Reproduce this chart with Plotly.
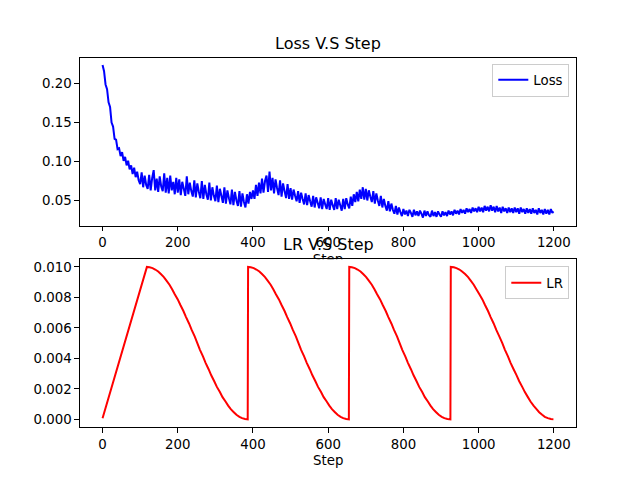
import plotly.graph_objects as go

# ---------------- data ----------------
loss_steps = list(range(0, 1200, 4)) + [1199]
loss_values = [
    # 0 - 96
    0.224, 0.216, 0.199, 0.193, 0.176, 0.170, 0.150, 0.145, 0.129, 0.128,
    0.116, 0.117, 0.107, 0.112, 0.101, 0.106, 0.095, 0.101, 0.090, 0.095,
    0.084, 0.092, 0.080, 0.087, 0.076,
    # 100 - 196
    0.071, 0.086, 0.067, 0.082, 0.070, 0.065, 0.083, 0.063, 0.079, 0.089,
    0.063, 0.078, 0.061, 0.081, 0.068, 0.062, 0.085, 0.060, 0.079, 0.059,
    0.082, 0.063, 0.074, 0.058, 0.079,
    # 200 - 296
    0.060, 0.077, 0.057, 0.074, 0.065, 0.056, 0.081, 0.058, 0.073, 0.062,
    0.055, 0.076, 0.054, 0.072, 0.061, 0.053, 0.075, 0.052, 0.070, 0.058,
    0.051, 0.073, 0.050, 0.067, 0.056,
    # 300 - 396
    0.049, 0.069, 0.048, 0.065, 0.056, 0.047, 0.067, 0.046, 0.063, 0.053,
    0.045, 0.064, 0.044, 0.061, 0.050, 0.043, 0.062, 0.042, 0.059, 0.048,
    0.041, 0.058, 0.046, 0.061, 0.052,
    # 400 - 496
    0.063, 0.052, 0.070, 0.056, 0.073, 0.059, 0.078, 0.060, 0.075, 0.082,
    0.061, 0.087, 0.063, 0.079, 0.059, 0.077, 0.066, 0.057, 0.076, 0.055,
    0.072, 0.062, 0.053, 0.071, 0.052,
    # 500 - 596
    0.066, 0.051, 0.064, 0.056, 0.049, 0.062, 0.047, 0.060, 0.052, 0.045,
    0.059, 0.044, 0.057, 0.049, 0.042, 0.056, 0.041, 0.054, 0.047, 0.040,
    0.054, 0.039, 0.052, 0.045, 0.039,
    # 600 - 696
    0.053, 0.038, 0.051, 0.044, 0.038, 0.053, 0.039, 0.051, 0.044, 0.037,
    0.052, 0.039, 0.053, 0.045, 0.040, 0.055, 0.043, 0.058, 0.048, 0.061,
    0.049, 0.064, 0.052, 0.067, 0.051,
    # 700 - 796
    0.065, 0.050, 0.063, 0.055, 0.048, 0.062, 0.046, 0.059, 0.050, 0.043,
    0.056, 0.041, 0.052, 0.043, 0.037, 0.049, 0.036, 0.046, 0.038, 0.033,
    0.043, 0.032, 0.041, 0.035, 0.030,
    # 800 - 896
    0.039, 0.032, 0.037, 0.030, 0.038, 0.034, 0.029, 0.038, 0.031, 0.036,
    0.030, 0.037, 0.033, 0.028, 0.037, 0.030, 0.036, 0.031, 0.029, 0.037,
    0.030, 0.035, 0.029, 0.036, 0.032,
    # 900 - 996
    0.029, 0.036, 0.031, 0.035, 0.030, 0.037, 0.032, 0.036, 0.031, 0.038,
    0.033, 0.037, 0.032, 0.039, 0.034, 0.038, 0.033, 0.040, 0.035, 0.039,
    0.034, 0.041, 0.036, 0.040, 0.035,
    # 1000 - 1096
    0.042, 0.036, 0.041, 0.035, 0.043, 0.037, 0.042, 0.036, 0.044, 0.037,
    0.042, 0.035, 0.043, 0.036, 0.041, 0.034, 0.042, 0.036, 0.040, 0.034,
    0.041, 0.035, 0.040, 0.034, 0.041,
    # 1100 - 1196, 1199
    0.035, 0.040, 0.033, 0.041, 0.035, 0.039, 0.033, 0.040, 0.034, 0.039,
    0.033, 0.040, 0.034, 0.038, 0.032, 0.040, 0.034, 0.038, 0.032, 0.039,
    0.033, 0.038, 0.032, 0.039, 0.034,
    0.036,
]

lr_steps = [
    0,
    # cycle 1
    118, 125, 133, 140, 148, 155, 163, 170, 178, 185, 192, 200, 207, 215, 222, 230, 237, 245, 252,
    259, 267, 274, 282, 289, 297, 304, 312, 319, 327, 334, 341, 349, 356, 364, 371, 379, 386,
    # cycle 2
    387, 394, 402, 409, 417, 424, 432, 439, 447, 454, 461, 469, 476, 484, 491, 499, 506, 514, 521,
    528, 536, 543, 551, 558, 566, 573, 581, 588, 596, 603, 610, 618, 625, 633, 640, 648, 655,
    # cycle 3
    656, 663, 671, 678, 686, 693, 701, 708, 716, 723, 730, 738, 745, 753, 760, 768, 775, 783, 790,
    797, 805, 812, 820, 827, 835, 842, 850, 857, 865, 872, 879, 887, 894, 902, 909, 917, 925,
    # cycle 4
    926, 934, 941, 949, 956, 964, 972, 979, 987, 994, 1002, 1010, 1017, 1025, 1032, 1040, 1047, 1055, 1063,
    1070, 1078, 1085, 1093, 1101, 1108, 1116, 1123, 1131, 1138, 1146, 1154, 1161, 1169, 1176, 1184, 1192, 1199,
]
lr_values = [
    0.00008,
    # cycle 1
    0.01000, 0.00998, 0.00992, 0.00983, 0.00970, 0.00953, 0.00933, 0.00910, 0.00883, 0.00854,
    0.00821, 0.00787, 0.00750, 0.00711, 0.00671, 0.00629, 0.00587, 0.00544, 0.00500,
    0.00456, 0.00413, 0.00371, 0.00329, 0.00289, 0.00250, 0.00213, 0.00179, 0.00146,
    0.00117, 0.00090, 0.00067, 0.00047, 0.00030, 0.00017, 0.00008, 0.00002, 0.00000,
    # cycle 2
    0.01000, 0.00998, 0.00992, 0.00983, 0.00970, 0.00953, 0.00933, 0.00910, 0.00883, 0.00854,
    0.00821, 0.00787, 0.00750, 0.00711, 0.00671, 0.00629, 0.00587, 0.00544, 0.00500,
    0.00456, 0.00413, 0.00371, 0.00329, 0.00289, 0.00250, 0.00213, 0.00179, 0.00146,
    0.00117, 0.00090, 0.00067, 0.00047, 0.00030, 0.00017, 0.00008, 0.00002, 0.00000,
    # cycle 3
    0.01000, 0.00998, 0.00992, 0.00983, 0.00970, 0.00953, 0.00933, 0.00910, 0.00883, 0.00854,
    0.00821, 0.00787, 0.00750, 0.00711, 0.00671, 0.00629, 0.00587, 0.00544, 0.00500,
    0.00456, 0.00413, 0.00371, 0.00329, 0.00289, 0.00250, 0.00213, 0.00179, 0.00146,
    0.00117, 0.00090, 0.00067, 0.00047, 0.00030, 0.00017, 0.00008, 0.00002, 0.00000,
    # cycle 4
    0.01000, 0.00998, 0.00992, 0.00983, 0.00970, 0.00953, 0.00933, 0.00910, 0.00883, 0.00854,
    0.00821, 0.00787, 0.00750, 0.00711, 0.00671, 0.00629, 0.00587, 0.00544, 0.00500,
    0.00456, 0.00413, 0.00371, 0.00329, 0.00289, 0.00250, 0.00213, 0.00179, 0.00146,
    0.00117, 0.00090, 0.00067, 0.00047, 0.00030, 0.00017, 0.00008, 0.00002, 0.00000,
]

x_ticks = [0, 200, 400, 600, 800, 1000, 1200]
loss_ticks = [0.05, 0.10, 0.15, 0.20]
lr_ticks = [0.000, 0.002, 0.004, 0.006, 0.008, 0.010]

# ---------------- figure ----------------
FONT = "DejaVu Sans"
fig = go.Figure()

fig.add_trace(go.Scatter(x=loss_steps, y=loss_values, mode="lines", name="Loss",
                         line=dict(color="#0000ff", width=2, simplify=False),
                         xaxis="x", yaxis="y", legend="legend"))
fig.add_trace(go.Scatter(x=lr_steps, y=lr_values, mode="lines", name="LR",
                         line=dict(color="#ff0000", width=2, simplify=False),
                         xaxis="x2", yaxis="y2", legend="legend2"))
# x-label of the upper panel, partly hidden under the lower panel (clipped to the gap)
fig.add_trace(go.Scatter(x=[0.5], y=[-0.05], mode="text", text=["Step"],
                         textposition="middle center",
                         textfont=dict(family=FONT, size=13.33, color="black"),
                         cliponaxis=True, showlegend=False, hoverinfo="skip",
                         xaxis="x3", yaxis="y3"))

axis_common = dict(showline=True, mirror=True, linecolor="black", linewidth=1,
                   ticks="outside", ticklen=4.7, tickwidth=1, tickcolor="black",
                   showgrid=False, zeroline=False,
                   tickfont=dict(family=FONT, size=13.33, color="black"))

top_dom = [0.5455, 1.0]
bot_dom = [0.0, 0.4545]

# the page body has an 8px offset, so the figure is 632x472 placed at (8, 8)
fig.update_layout(
    width=632, height=472,
    margin=dict(l=72, r=64, t=49.6, b=52.8, pad=0),
    paper_bgcolor="white", plot_bgcolor="white",
    font=dict(family=FONT, size=13.33, color="black"),
    xaxis=dict(domain=[0, 1], range=[-59.95, 1258.95], anchor="y",
               tickvals=x_ticks, ticktext=[str(v) for v in x_ticks], **axis_common),
    yaxis=dict(domain=top_dom, range=[0.0176, 0.2330], anchor="x",
               tickvals=loss_ticks, ticktext=["%.2f" % v for v in loss_ticks], **axis_common),
    xaxis2=dict(domain=[0, 1], range=[-59.95, 1258.95], anchor="y2",
                tickvals=x_ticks, ticktext=[str(v) for v in x_ticks], **axis_common),
    yaxis2=dict(domain=bot_dom, range=[-0.0005, 0.0105], anchor="x2",
                tickvals=lr_ticks, ticktext=["%.3f" % v for v in lr_ticks], **axis_common),
    xaxis3=dict(domain=[0, 1], range=[0, 1], anchor="y3", visible=False, fixedrange=True),
    yaxis3=dict(domain=[bot_dom[1], top_dom[0]], range=[0, 1], anchor="x3",
                visible=False, fixedrange=True),
    legend=dict(x=0.9865, xanchor="right", y=0.985, yanchor="top",
                bgcolor="rgba(255,255,255,0.8)", bordercolor="#cccccc", borderwidth=1,
                font=dict(family=FONT, size=13.33, color="black")),
    legend2=dict(x=0.9865, xanchor="right", y=0.435, yanchor="top",
                 bgcolor="rgba(255,255,255,0.8)", bordercolor="#cccccc", borderwidth=1,
                 font=dict(family=FONT, size=13.33, color="black")),
    annotations=[
        dict(text="Loss V.S Step", x=0.5, y=1.0395, xref="paper", yref="paper",
             xanchor="center", yanchor="middle", showarrow=False,
             font=dict(family=FONT, size=16, color="black")),
        dict(text="LR V.S Step", x=0.5, y=0.494, xref="paper", yref="paper",
             xanchor="center", yanchor="middle", showarrow=False,
             font=dict(family=FONT, size=16, color="black")),
        dict(text="Step", x=0.5, y=-0.0915, xref="paper", yref="paper",
             xanchor="center", yanchor="middle", showarrow=False,
             font=dict(family=FONT, size=13.33, color="black")),
    ],
)

fig.write_html("out.html")
